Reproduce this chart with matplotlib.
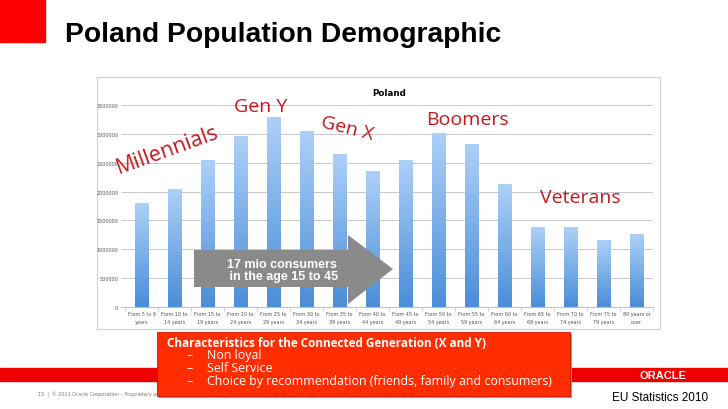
import numpy as np
import matplotlib.pyplot as plt
from matplotlib.colors import LinearSegmentedColormap
from matplotlib.patches import Rectangle, Polygon

# age groups and population counts (Poland, EU Statistics 2010)
age_groups = ['From 5 to 9\nyears', 'From 10 to\n14 years', 'From 15 to\n19 years', 'From 20 to\n24 years',
              'From 25 to\n29 years', 'From 30 to\n34 years', 'From 35 to\n39 years', 'From 40 to\n44 years',
              'From 45 to\n49 years', 'From 50 to\n54 years', 'From 55 to\n59 years', 'From 60 to\n64 years',
              'From 65 to\n69 years', 'From 70 to\n74 years', 'From 75 to\n79 years', '80 years or\nover']
population = [1790000, 2040000, 2530000, 2960000, 3290000, 3040000, 2650000, 2340000,
              2530000, 3005000, 2810000, 2130000, 1380000, 1370000, 1150000, 1260000]
y_ticks = [0, 500000, 1000000, 1500000, 2000000, 2500000, 3000000, 3500000]

W, H = 728, 410
fig = plt.figure(figsize=(W / 100, H / 100), dpi=100)
fig.patch.set_facecolor('white')

def fx(px):
    return px / W

def fy(py):
    return 1 - py / H

# slide decorations
fig.patches.append(Rectangle((0, fy(43)), fx(45), 43 / H, transform=fig.transFigure, color='#ff0000', zorder=0))
fig.text(fx(65), fy(35), 'Poland Population Demographic', fontsize=20.3, fontweight='bold',
         family='Liberation Sans', va='center', ha='left')

# chart frame
fig.patches.append(Rectangle((fx(97), fy(330)), fx(660 - 97), (330 - 78) / H, transform=fig.transFigure,
                             facecolor='white', edgecolor='#d0d0d0', lw=0.8, zorder=0))

ax = fig.add_axes([fx(125), fy(308), fx(653 - 125), (308 - 106) / H])
ax.set_zorder(1)
ax.patch.set_alpha(0)
x = np.arange(len(population))
bars = ax.bar(x, population, width=0.4, color='none', zorder=2)

cmap = LinearSegmentedColormap.from_list('barblue', ['#4a8ed8', '#acd0f8'])
grad = np.linspace(0, 1, 100).reshape(-1, 1)
for b in bars:
    ax.imshow(grad, extent=[b.get_x(), b.get_x() + b.get_width(), 0, b.get_height()],
              origin='lower', aspect='auto', cmap=cmap, zorder=2)

ax.set_xlim(-0.5, len(population) - 0.5)
ax.set_ylim(0, 3500000)
ax.set_yticks(y_ticks)
ax.set_yticklabels([str(v) for v in y_ticks], fontsize=3.5, color='#555555')
ax.set_xticks(x)
ax.set_xticklabels(age_groups, fontsize=3.5, color='#555555', linespacing=1.6)
ax.set_xticks(np.arange(-0.5, len(population)), minor=True)
ax.tick_params(axis='x', which='major', length=0, pad=3)
ax.tick_params(axis='x', which='minor', length=3, color='#c8c8c8')
ax.tick_params(axis='y', length=3, color='#c8c8c8', pad=2)
ax.grid(axis='y', color='#c8c8c8', lw=0.7, zorder=0)
ax.set_axisbelow(True)
for s in ['top', 'right', 'left']:
    ax.spines[s].set_visible(False)
ax.spines['bottom'].set_color('#c0c0c0')
ax.set_title('Poland', fontsize=6.3, fontweight='bold', pad=7)

# generation labels
red = '#c8161b'
lab = dict(color=red, family='Open Sans', ha='center', va='center', zorder=4)
fig.text(fx(168), fy(150), 'Millennials', fontsize=15.5, rotation=20, **lab)
fig.text(fx(261), fy(107), 'Gen Y', fontsize=14, **lab)
fig.text(fx(347), fy(129), 'Gen X', fontsize=14, rotation=-14, **lab)
fig.text(fx(467), fy(120), 'Boomers', fontsize=14, **lab)
fig.text(fx(580), fy(198), 'Veterans', fontsize=14, **lab)

# grey arrow
arrow_px = [(194, 251), (348, 251), (348, 236), (393, 270), (348, 305), (348, 288), (194, 288)]
fig.patches.append(Polygon([(fx(a), fy(b)) for a, b in arrow_px], closed=True, transform=fig.transFigure,
                           facecolor='#8a8a8a', edgecolor='none', zorder=5))
fig.text(fx(282), fy(271), '17 mio consumers\n in the age 15 to 45', color='white', fontsize=9,
         fontweight='bold', family='Liberation Sans', ha='center', va='center', zorder=6, linespacing=1.0)

# bottom band
fig.patches.append(Rectangle((0, fy(382)), 1, 13 / H, transform=fig.transFigure, color='#ee0000', zorder=1))
fig.text(fx(663), fy(376), 'ORACLE', color='white', fontsize=8, fontweight='bold',
         family='Liberation Sans', ha='center', va='center', zorder=2)
fig.text(fx(38), fy(395), '15  |  © 2011 Oracle Corporation – Proprietary and Confidential', color='#777777',
         fontsize=3.5, ha='left', va='center', zorder=1)
fig.text(fx(660), fy(398), 'EU Statistics 2010', color='black', fontsize=8.5,
         family='Liberation Sans', ha='center', va='center')

# characteristics box with shadow
fig.patches.append(Rectangle((fx(159), fy(399)), fx(570 - 157), (397 - 333) / H, transform=fig.transFigure,
                             facecolor='#9a9a9a', edgecolor='none', zorder=7))
fig.patches.append(Rectangle((fx(157), fy(397)), fx(570 - 157), (397 - 333) / H, transform=fig.transFigure,
                             facecolor='#ff2d00', edgecolor='#d01000', lw=0.6, zorder=8))
box = dict(color='white', family='Open Sans', va='center', zorder=9)
fig.text(fx(167), fy(344), 'Characteristics for the Connected Generation (X and Y)', fontsize=8.5,
         fontweight='bold', ha='left', **box)
for i, item in enumerate(['Non loyal', 'Self Service', 'Choice by recommendation (friends, family and consumers)']):
    fig.text(fx(190), fy(356 + 13 * i), '–', fontsize=8.9, ha='center', **box)
    fig.text(fx(207), fy(356 + 13 * i), item, fontsize=8.9, ha='left', **box)

fig.savefig('out.png', dpi=100)
